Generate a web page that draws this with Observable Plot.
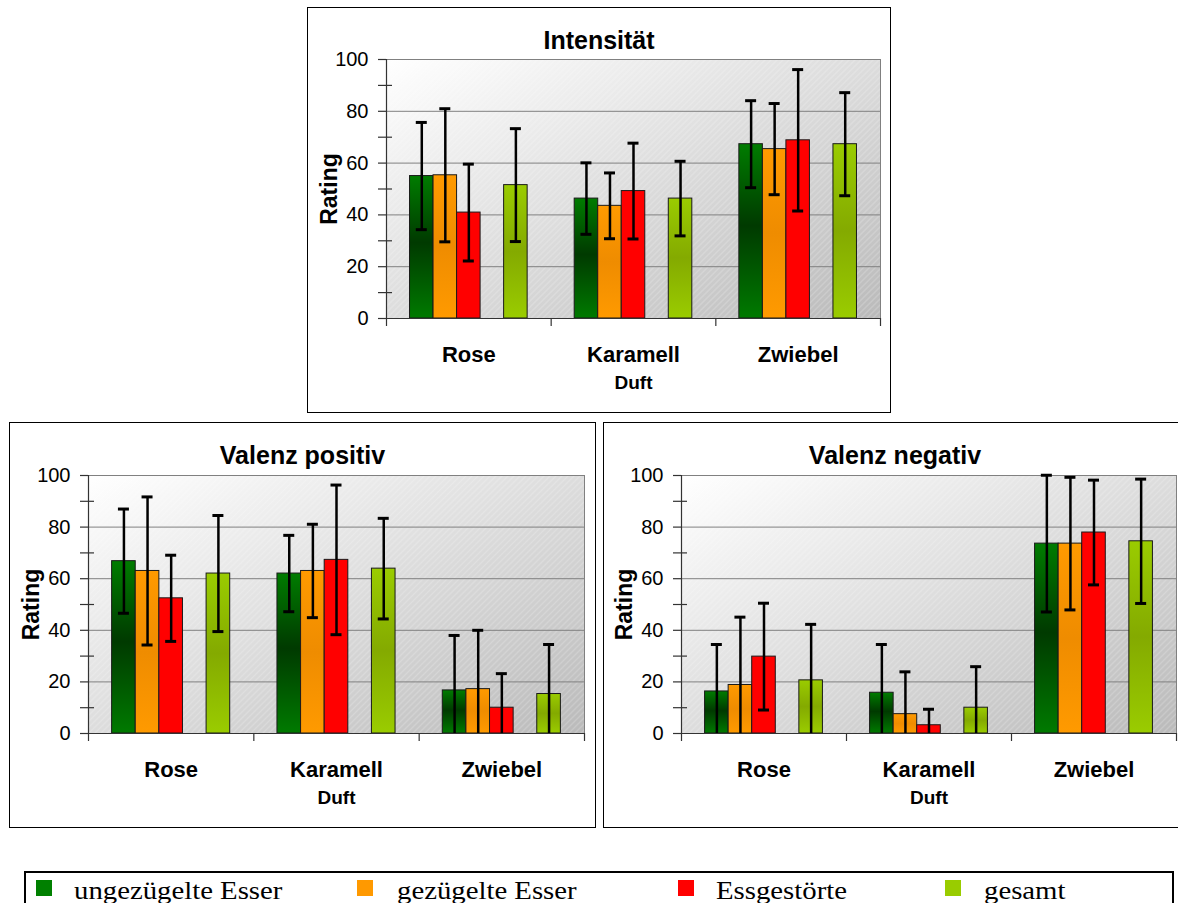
<!DOCTYPE html>
<html>
<head>
<meta charset="utf-8">
<script src="https://cdn.jsdelivr.net/npm/d3@7"></script>
<script src="https://cdn.jsdelivr.net/npm/@observablehq/plot@0.6"></script>
<style>
html, body { margin: 0; padding: 0; background: #fff; }
body { width: 1178px; height: 903px; overflow: hidden; position: relative; }
.panel { position: absolute; }
.panel svg { position: absolute; left: 0; top: 0; }
.panel .title { position: absolute; left: 0; width: 100%; text-align: center; font: bold 25px "Liberation Sans", Arial, sans-serif; line-height: 25px; white-space: nowrap; color: #000; }
.panel .border { position: absolute; inset: 0; border: 1px solid #000; box-sizing: border-box; pointer-events: none; }
#legend { position: absolute; left: 24px; top: 871px; width: 1150px; height: 44px; border: 2px solid #000; box-sizing: border-box; }
.sw { position: absolute; top: 880px; width: 16px; height: 16px; }
.lt { position: absolute; top: 878px; font: 25px "Liberation Serif", "Times New Roman", serif; line-height: 25px; white-space: nowrap; transform: scaleX(1.15); transform-origin: 0 0; color: #000; }
</style>
</head>
<body>
<svg width="0" height="0" style="position:absolute">
  <defs>
    <linearGradient id="bgGrad" x1="0" y1="0" x2="1" y2="1">
      <stop offset="0" stop-color="#ffffff"/>
      <stop offset="1" stop-color="#bababa"/>
    </linearGradient>
    <pattern id="hatch" width="6" height="6" patternUnits="userSpaceOnUse">
      <path d="M-1,1 l2,-2 M0,6 l6,-6 M5,7 l2,-2" stroke="#ffffff" stroke-opacity="0.35" stroke-width="1"/>
    </pattern>
    <linearGradient id="gGreen" x1="0" y1="0" x2="0" y2="1">
      <stop offset="0" stop-color="#007c00"/>
      <stop offset="0.47" stop-color="#003a00"/>
      <stop offset="1" stop-color="#007a00"/>
    </linearGradient>
    <linearGradient id="gOrange" x1="0" y1="0" x2="0" y2="1">
      <stop offset="0" stop-color="#ff9a00"/>
      <stop offset="0.5" stop-color="#ef8c00"/>
      <stop offset="1" stop-color="#ff9a00"/>
    </linearGradient>
    <linearGradient id="gRed" x1="0" y1="0" x2="0" y2="1">
      <stop offset="0" stop-color="#ff0000"/>
      <stop offset="1" stop-color="#ff0000"/>
    </linearGradient>
    <linearGradient id="gLime" x1="0" y1="0" x2="0" y2="1">
      <stop offset="0" stop-color="#9acc00"/>
      <stop offset="0.5" stop-color="#84aa00"/>
      <stop offset="1" stop-color="#9acc00"/>
    </linearGradient>
  </defs>
</svg>

<div id="legend"></div>

<script>
// ---------- data ----------
const categories = ["Rose", "Karamell", "Zwiebel"];
const groups = ["ungezügelte Esser", "gezügelte Esser", "Essgestörte", "gesamt"];
const axisTitleX = "Duft";
const axisTitleY = "Rating";
const yTicks = [0, 20, 40, 60, 80, 100];
const yMinorTicks = [10, 30, 50, 70, 90];

const titleIntensitaet = "Intensität";
const intensitaetMean = [[55.0, 55.3, 40.9, 51.5], [46.3, 43.5, 49.2, 46.3], [67.3, 65.4, 68.8, 67.3]];
const intensitaetSD   = [[20.7, 25.7, 18.7, 21.8], [13.8, 12.7, 18.5, 14.4], [16.8, 17.6, 27.3, 19.9]];

const titlePositiv = "Valenz positiv";
const positivMean = [[66.8, 63.0, 52.4, 62.0], [62.0, 63.0, 67.3, 63.9], [16.7, 17.2, 10.0, 15.3]];
const positivSD   = [[20.2, 28.7, 16.7, 22.5], [14.8, 18.1, 29.0, 19.5], [21.3, 22.8, 13.2, 19.2]];

const titleNegativ = "Valenz negativ";
const negativMean = [[16.3, 18.8, 29.8, 20.6], [15.8, 7.5, 3.2, 10.0], [73.6, 73.6, 77.9, 74.5]];
const negativSD   = [[18.2, 26.3, 20.7, 21.7], [18.7, 16.4, 6.2, 15.9], [26.5, 25.7, 20.3, 24.1]];

// ---------- styling ----------
const barFills = ["url(#gGreen)", "url(#gOrange)", "url(#gRed)", "url(#gLime)"];
const legendColors = ["#008000", "#ff9900", "#ff0000", "#99cc00"];
const FONT = "'Liberation Sans', Arial, sans-serif";

// each category occupies 7 slots: pad, 3 groups, gap, gesamt, pad
const SLOTS = 7;
const slotOf = [1, 2, 3, 5];

function makePanel({left, top, width, height, ml, mr, mt, mb, title, means, sds}) {
  const panel = document.createElement("div");
  panel.className = "panel";
  Object.assign(panel.style, {left: left + "px", top: top + "px", width: width + "px", height: height + "px"});
  document.body.appendChild(panel);

  const rows = [];
  categories.forEach((c, ci) => groups.forEach((g, gi) => {
    const m = means[ci][gi], e = sds[ci][gi];
    const x1 = ci * SLOTS + slotOf[gi];
    rows.push({cat: c, group: g, gi, x1, x2: x1 + 1, xc: x1 + 0.5, m, lo: Math.max(0, m - e), hi: m + e, lowCap: m - e > 0});
  }));

  const xMax = categories.length * SLOTS;
  const pxX = (width - ml - mr) / xMax;      // px per x unit
  const pxY = (height - mt - mb) / 100;      // px per y unit
  const capHalf = 5.5 / pxX;

  const svg = Plot.plot({
    width, height,
    marginLeft: ml, marginRight: mr, marginTop: mt, marginBottom: mb,
    style: {background: "transparent", overflow: "visible", fontFamily: FONT, color: "#000"},
    x: {domain: [0, xMax], axis: null},
    y: {domain: [0, 100], axis: null},
    color: {type: "identity"},
    marks: [
      Plot.frame({fill: "url(#bgGrad)", stroke: "none"}),
      Plot.frame({fill: "url(#hatch)", stroke: "none"}),
      Plot.ruleY(yTicks.filter(t => t > 0), {x1: 0, x2: xMax, stroke: "#808080", strokeWidth: 1}),
      Plot.ruleX([xMax], {y1: 0, y2: 100, stroke: "#808080"}),
      Plot.rect(rows, {x1: "x1", x2: "x2", y1: 0, y2: "m", fill: d => barFills[d.gi], stroke: "#1a1a1a", strokeWidth: 1}),
      Plot.ruleX(rows, {x: "xc", y1: "lo", y2: "hi", stroke: "#000", strokeWidth: 2.5}),
      Plot.ruleY(rows, {y: "hi", x1: d => d.xc - capHalf, x2: d => d.xc + capHalf, stroke: "#000", strokeWidth: 3}),
      Plot.ruleY(rows.filter(d => d.lowCap), {y: "lo", x1: d => d.xc - capHalf, x2: d => d.xc + capHalf, stroke: "#000", strokeWidth: 3}),
      // axes
      Plot.ruleX([0], {y1: 0, y2: 100, stroke: "#333", strokeWidth: 1.2}),
      Plot.ruleY([0], {x1: 0, x2: xMax, stroke: "#333", strokeWidth: 1.2}),
      Plot.ruleY(yTicks, {x1: -8 / pxX, x2: 0, stroke: "#333", strokeWidth: 1.2}),
      Plot.ruleY(yMinorTicks, {x1: -8 / pxX, x2: 6 / pxX, stroke: "#333", strokeWidth: 1.2}),
      Plot.ruleX(d3.range(categories.length + 1).map(i => i * SLOTS), {y1: 0, y2: -8 / pxY, stroke: "#333", strokeWidth: 1.2}),
      Plot.text(yTicks, {x: 0, y: d => d, text: d => String(d), textAnchor: "end", dx: -18, fontSize: 20, fill: "#000"}),
      Plot.text(categories, {x: (d, i) => i * SLOTS + SLOTS / 2, y: 0, dy: 36, text: d => d, fontSize: 22, fontWeight: "bold", fill: "#000"}),
      Plot.text([axisTitleX], {x: xMax / 2, y: 0, dy: 64, text: d => d, fontSize: 19, fontWeight: "bold", fill: "#000"}),
      Plot.text([axisTitleY], {frameAnchor: "left", textAnchor: "middle", dx: -57, rotate: -90, text: d => d, fontSize: 23, fontWeight: "bold", fill: "#000"})
    ]
  });
  panel.appendChild(svg);

  const t = document.createElement("div");
  t.className = "title";
  t.style.top = "21px";
  t.textContent = title;
  panel.appendChild(t);

  const b = document.createElement("div");
  b.className = "border";
  panel.appendChild(b);
}

makePanel({left: 307, top: 7, width: 584, height: 406, ml: 79, mr: 11, mt: 52, mb: 95,
  title: titleIntensitaet, means: intensitaetMean, sds: intensitaetSD});
makePanel({left: 9, top: 422, width: 587, height: 406, ml: 79, mr: 12, mt: 53, mb: 95,
  title: titlePositiv, means: positivMean, sds: positivSD});
makePanel({left: 603, top: 422, width: 584, height: 406, ml: 78, mr: 11, mt: 53, mb: 95,
  title: titleNegativ, means: negativMean, sds: negativSD});

// legend
const swLeft = [36, 357, 678, 945];
const txtLeft = [74, 397, 716, 984];
groups.forEach((g, i) => {
  const s = document.createElement("div");
  s.className = "sw";
  s.style.left = swLeft[i] + "px";
  s.style.background = legendColors[i];
  document.body.appendChild(s);
  const t = document.createElement("div");
  t.className = "lt";
  t.style.left = txtLeft[i] + "px";
  t.textContent = g;
  document.body.appendChild(t);
});
</script>
</body>
</html>
